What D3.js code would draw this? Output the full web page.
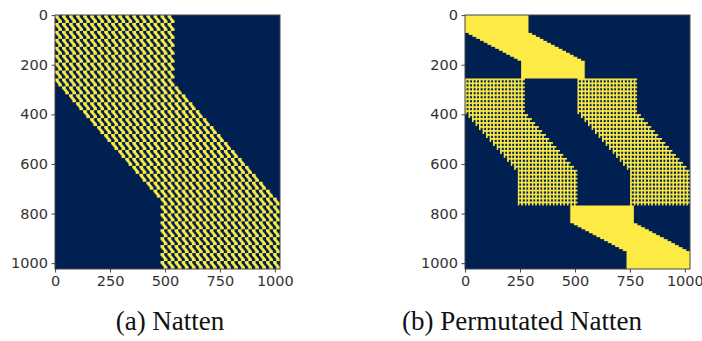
<!DOCTYPE html>
<html>
<head>
<meta charset="utf-8">
<script src="https://cdn.jsdelivr.net/npm/d3@7"></script>
<style>
  body { margin: 0; background: #fff; }
  svg { display: block; }
</style>
</head>
<body>
<svg id="fig" width="702" height="341"></svg>
<script>
// ---- data ----
const N_TOKENS = 1024;
const xTicks = [0, 250, 500, 750, 1000];
const yTicks = [0, 200, 400, 600, 800, 1000];
const captions = ["(a) Natten", "(b) Permutated Natten"];
const captionX = [170, 522];

// (a) neighbourhood attention on a 32x32 token grid, 17x17 window
const gridSide = 32;
const kernelSize = 17;

// (b) permuted mask, bands (query rows / key columns)
const bandFrom       = [0,   256, 256, 768];
const bandTo         = [256, 768, 768, 1024];
const bandFlatUntil  = [72,  400, 400, 840];
const bandSlantUntil = [184, 624, 624, 952];
const bandKeyTop     = [0,   0,   512, 479];
const bandKeyBottom  = [256, 240, 752, 735];
const bandKeyWidth   = [289, 272, 272, 289];
const bandStep       = [8,   16,  16,  8];
const bandFill       = ["solid", "checker", "checker", "solid"];
const checkerCell = 16;
const checkerHole = 7;

// ---- masks ----
function nattenMask() {
  const m = new Uint8Array(N_TOKENS * N_TOKENS);
  const half = Math.floor(kernelSize / 2);
  const maxStart = gridSide - kernelSize;
  for (let i = 0; i < N_TOKENS; i++) {
    const ri = Math.floor(i / gridSide), ci = i % gridSide;
    const rs = Math.max(0, Math.min(ri - half, maxStart));
    const cs = Math.max(0, Math.min(ci - half, maxStart));
    for (let rj = rs; rj < rs + kernelSize; rj++)
      for (let cj = cs; cj < cs + kernelSize; cj++)
        m[i * N_TOKENS + rj * gridSide + cj] = 1;
  }
  return m;
}

function permutedMask() {
  const m = new Uint8Array(N_TOKENS * N_TOKENS);
  bandFrom.forEach((from, b) => {
    const steps = (bandSlantUntil[b] - bandFlatUntil[b]) / bandStep[b] + 1;
    for (let q = from; q < bandTo[b]; q++) {
      let s;
      if (q < bandFlatUntil[b]) s = 0;
      else if (q >= bandSlantUntil[b]) s = steps;
      else s = 1 + Math.floor((q - bandFlatUntil[b]) / bandStep[b]);
      const start = Math.round(bandKeyTop[b] + (bandKeyBottom[b] - bandKeyTop[b]) * s / steps);
      const end = Math.min(N_TOKENS, start + bandKeyWidth[b]);
      for (let k = start; k < end; k++) {
        let v = 1;
        if (bandFill[b] === "checker") {
          const a = (q - from) % checkerCell, c = k % checkerCell;
          v = (a >= checkerHole && c >= checkerHole) ? 0 : 1;
        }
        m[q * N_TOKENS + k] = v;
      }
    }
  });
  return m;
}

const lo = d3.rgb(d3.interpolateCividis(0));
const hi = d3.rgb(d3.interpolateCividis(1));

function maskImage(mask, w, h) {
  const full = document.createElement("canvas");
  full.width = N_TOKENS; full.height = N_TOKENS;
  const fctx = full.getContext("2d");
  const img = fctx.createImageData(N_TOKENS, N_TOKENS);
  for (let i = 0; i < mask.length; i++) {
    const c = mask[i] ? hi : lo;
    img.data[i * 4] = c.r; img.data[i * 4 + 1] = c.g; img.data[i * 4 + 2] = c.b; img.data[i * 4 + 3] = 255;
  }
  fctx.putImageData(img, 0, 0);
  const small = document.createElement("canvas");
  small.width = w; small.height = h;
  const sctx = small.getContext("2d");
  sctx.imageSmoothingEnabled = true;
  sctx.imageSmoothingQuality = "high";
  sctx.drawImage(full, 0, 0, w, h);
  return small.toDataURL();
}

// ---- layout ----
const svg = d3.select("#fig");
svg.append("rect").attr("width", 702).attr("height", 341).attr("fill", "#fff");

const panelLeft = [55, 465];
const panelTop = 15;
const panelW = 225, panelH = 254;
const masks = [nattenMask(), permutedMask()];
const axisColor = "#444";

masks.forEach((mask, p) => {
  const x = d3.scaleLinear().domain([-0.5, N_TOKENS - 0.5]).range([panelLeft[p], panelLeft[p] + panelW]);
  const y = d3.scaleLinear().domain([-0.5, N_TOKENS - 0.5]).range([panelTop, panelTop + panelH]);
  const g = svg.append("g");

  g.append("image")
    .attr("x", x(-0.5)).attr("y", y(-0.5))
    .attr("width", x(N_TOKENS - 0.5) - x(-0.5))
    .attr("height", y(N_TOKENS - 0.5) - y(-0.5))
    .attr("preserveAspectRatio", "none")
    .attr("href", maskImage(mask, panelW, panelH));

  g.append("rect")
    .attr("x", x(-0.5)).attr("y", y(-0.5))
    .attr("width", x(N_TOKENS - 0.5) - x(-0.5))
    .attr("height", y(N_TOKENS - 0.5) - y(-0.5))
    .attr("fill", "none").attr("stroke", axisColor).attr("stroke-width", 1);

  const xa = g.append("g").attr("transform", `translate(0,${y(N_TOKENS - 0.5)})`)
    .call(d3.axisBottom(x).tickValues(xTicks).tickFormat(d3.format("d")).tickSize(3.5).tickPadding(3.5));
  const ya = g.append("g").attr("transform", `translate(${x(-0.5)},0)`)
    .call(d3.axisLeft(y).tickValues(yTicks).tickFormat(d3.format("d")).tickSize(3.5).tickPadding(3.5));
  [xa, ya].forEach(a => {
    a.select(".domain").remove();
    a.selectAll("line").attr("stroke", axisColor);
    a.selectAll("text").attr("fill", "#333")
      .style("font-family", "'DejaVu Sans', sans-serif").style("font-size", "14.5px");
  });

  svg.append("text")
    .attr("x", captionX[p]).attr("y", 330)
    .attr("text-anchor", "middle")
    .style("font-family", "'Liberation Serif', 'Times New Roman', serif")
    .style("font-size", "27px")
    .attr("fill", "#111")
    .text(captions[p]);
});
</script>
</body>
</html>
